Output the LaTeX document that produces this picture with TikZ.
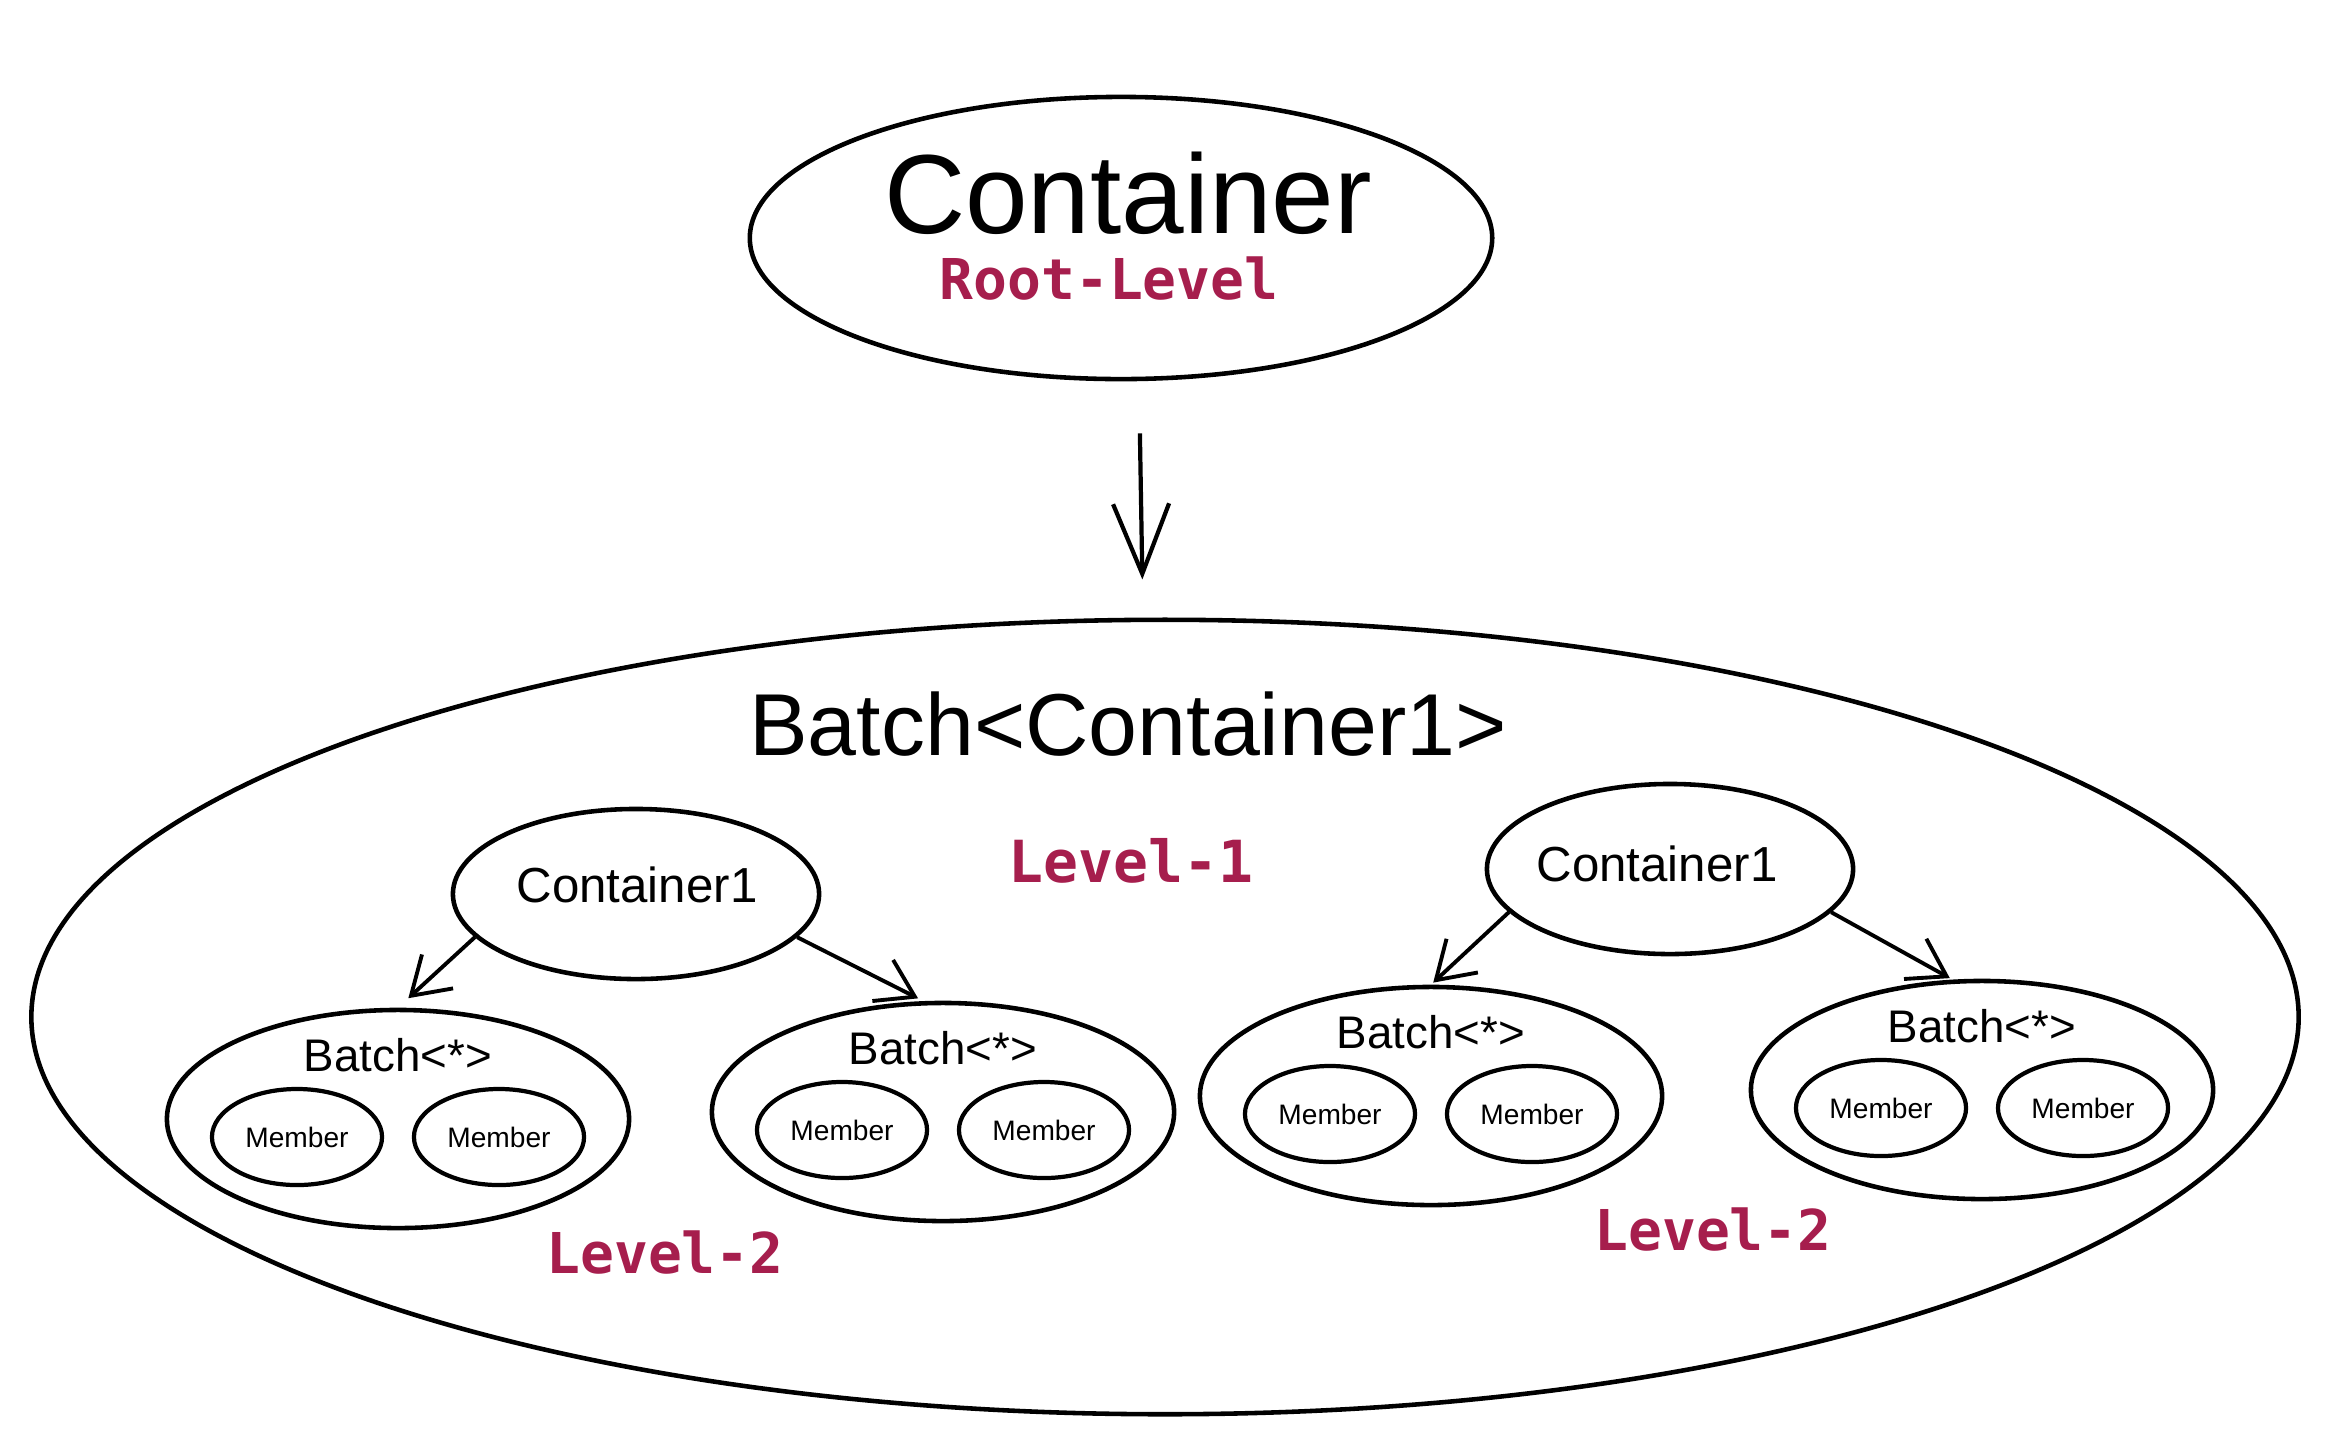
\documentclass[tikz,border=0pt]{standalone}
\usepackage{fontspec}
\setmainfont{Liberation Sans}
\newfontfamily\codefont{DejaVu Sans Mono}
\usetikzlibrary{shapes.geometric, arrows.meta, positioning}
\definecolor{levelred}{HTML}{A61E4D}

\tikzset{
  blob/.style={ellipse, draw, line width=1.3pt, inner sep=0pt},
  rootblob/.style={blob, minimum width=7.42cm, minimum height=2.82cm},
  bigblob/.style={blob, minimum width=22.66cm, minimum height=7.94cm},
  contblob/.style={blob, minimum width=3.66cm, minimum height=1.70cm},
  batchblob/.style={blob, minimum width=4.62cm, minimum height=2.18cm},
  memberblob/.style={blob, line width=1.2pt, minimum width=1.70cm, minimum height=0.96cm,
    font=\fontsize{8}{9}\selectfont},
  lvl/.style={text=levelred, font=\codefont\bfseries\fontsize{16}{18}\selectfont},
  arr/.style={line width=1.1pt, -{Straight Barb[length=3.6mm,width=4.6mm]}},
}

\begin{document}
\begin{tikzpicture}[x=0.01cm, y=-0.01cm]
  \useasboundingbox (0,0) rectangle (2328,1445);

  % root level
  \node[rootblob] (root) at (1121,238) {};
  \node[font=\fontsize{32}{36}\selectfont] (root-t) at (1128,193) {Container};
  \node[lvl] (root-l) at (1109,279) {Root-Level};

  % level 1
  \node[bigblob] (big) at (1165,1017) {};
  \node[font=\fontsize{25}{28}\selectfont] (big-t) at (1128,724) {Batch<Container1>};
  \node[lvl, font=\codefont\bfseries\fontsize{16.5}{19}\selectfont] (lvl1) at (1131,861) {Level-1};

  \draw[line width=1.2pt, -{Straight Barb[length=7mm,width=5.6mm]},
        shorten >=0.38cm, shorten <=0.52cm]
        ([xshift=0.18cm]root.south) -- ([xshift=-0.22cm]big.north);

  \node[contblob] (c1l) at (636,894) {};
  \node[font=\fontsize{14}{16}\selectfont] (c1l-t) at (637,885) {Container1};
  \node[contblob] (c1r) at (1670,869) {};
  \node[font=\fontsize{14}{16}\selectfont] (c1r-t) at (1657,864) {Container1};

  % level 2
  \foreach \n/\x/\y in {b1/398/1119, b2/943/1112, b3/1431/1096, b4/1982/1090} {
    \node[batchblob] (\n) at (\x,\y) {};
    \node[font=\fontsize{13}{15}\selectfont] (\n-t) at (\x,\y-64) {Batch<*>};
    \node[memberblob] (\n-m1) at (\x-101,\y+18) {Member};
    \node[memberblob] (\n-m2) at (\x+101,\y+18) {Member};
  }

  \draw[arr, shorten >=0.14cm] (c1l.195) -- (b1.north);
  \draw[arr, shorten >=0.06cm] (c1l.-15) -- (b2.100);
  \draw[arr, shorten >=0.03cm] (c1r.195) -- (b3.north);
  \draw[arr, shorten >=0.03cm] (c1r.-15) -- (b4.105);

  \node[lvl] (lvl2l) at (665,1252) {Level-2};
  \node[lvl] (lvl2r) at (1713,1229) {Level-2};
\end{tikzpicture}
\end{document}
